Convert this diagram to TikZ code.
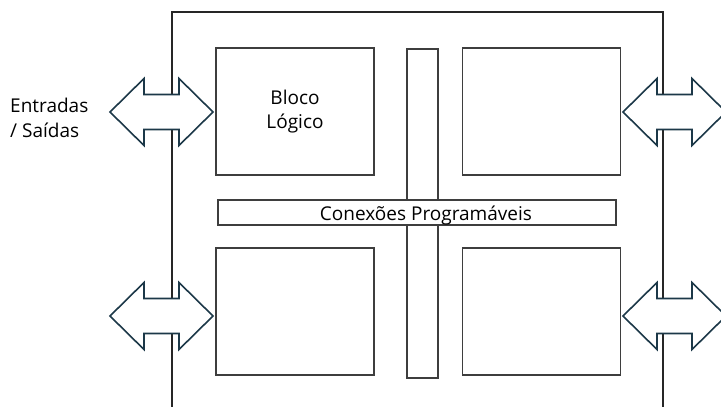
\documentclass[tikz,border=0pt]{standalone}
\usepackage{fontspec}
\setmainfont{Open Sans}
\usepackage{tikz}
\usetikzlibrary{calc}
\definecolor{frameK}{RGB}{38,38,38}
\definecolor{blockK}{RGB}{62,62,62}
\definecolor{ioT}{RGB}{28,56,72}
\newcommand{\fpgatext}{\fontsize{19}{24.5}\selectfont}
\tikzset{
  frameline/.style={draw=frameK, line width=1.3pt},
  blockbox/.style={draw=blockK, line width=1.5pt, fill=white, inner sep=0pt,
    minimum width=158pt, minimum height=127pt, font=\fpgatext, align=center},
  busbar/.style={draw=blockK, line width=1.5pt, fill=white, inner sep=0pt},
  ioarrow/.pic={
    \draw[ioT, line width=1.6pt, fill=white, line join=miter]
      (-51.5,0) -- (-17.5,-33.5) -- (-17.5,-17.5) -- (17.5,-17.5) -- (17.5,-33.5)
      -- (51.5,0) -- (17.5,33.5) -- (17.5,17.5) -- (-17.5,17.5) -- (-17.5,33.5) -- cycle;
  }
}

\begin{document}
\begin{tikzpicture}[x=1pt, y=-1pt]
\clip (0,0) rectangle (721,407);
% ====== chip outline (open at the bottom) ======
\draw[frameline] (172,412) -- (172,12) -- (663,12) -- (663,412);
% ====== logic blocks ======
\node[blockbox] (blkTL) at (295,111.5) {Bloco\\Lógico};
\node[blockbox] (blkTR) at (541.5,111.5) {};
\node[blockbox] (blkBL) at (295,311.5) {};
\node[blockbox] (blkBR) at (541.5,311.5) {};
% ====== routing: vertical bus under the horizontal one ======
\node[busbar, minimum width=31pt, minimum height=329pt] (busV) at (422.5,213.5) {};
\node[busbar, minimum width=398pt, minimum height=25pt] (busH) at (417,212.5) {};
\node[font=\fpgatext, anchor=base, inner sep=0pt] (busLbl) at (426,220) {Conexões Programáveis};
% ====== I/O arrows across the outline ======
\pic at (161.5,112) {ioarrow};
\pic at (161.5,316) {ioarrow};
\pic at (674.5,112) {ioarrow};
\pic at (674.5,316) {ioarrow};
\node[font=\fpgatext, align=left, anchor=west, inner sep=0pt] (ioLbl) at (10,118) {Entradas\\/ Saídas};
\end{tikzpicture}
\end{document}
